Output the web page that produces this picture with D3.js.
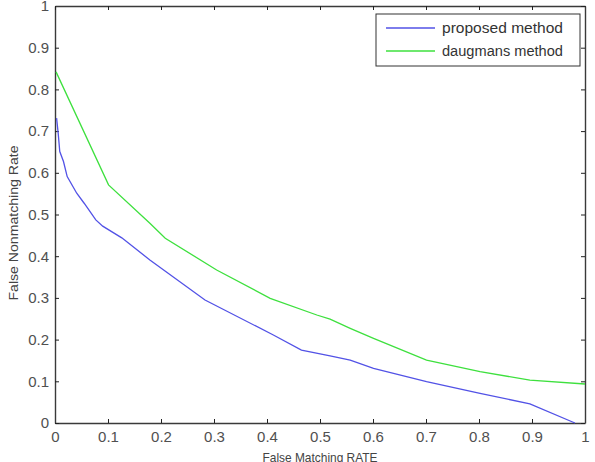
<!DOCTYPE html>
<html>
<head>
<meta charset="utf-8">
<script src="https://cdn.jsdelivr.net/npm/d3@7"></script>
<style>
  body { margin: 0; background: #fff; }
  text { font-family: "Liberation Sans", Arial, sans-serif; }
</style>
</head>
<body>
<div id="chart"></div>
<script>
// false matching rate (x) for each series
var proposedFMR = [0.003, 0.006, 0.009, 0.016, 0.023, 0.041, 0.055, 0.077, 0.09, 0.126, 0.179, 0.283, 0.412, 0.465, 0.519, 0.557, 0.601, 0.701, 0.802, 0.896, 0.981];
var proposedFNMR = [0.731, 0.695, 0.651, 0.627, 0.591, 0.551, 0.527, 0.487, 0.472, 0.444, 0.391, 0.295, 0.211, 0.175, 0.161, 0.151, 0.131, 0.099, 0.071, 0.046, 0.0];

var daugmanFMR = [0.002, 0.101, 0.179, 0.208, 0.305, 0.406, 0.494, 0.519, 0.557, 0.601, 0.701, 0.802, 0.896, 1.0];
var daugmanFNMR = [0.842, 0.571, 0.479, 0.443, 0.367, 0.299, 0.259, 0.249, 0.227, 0.203, 0.151, 0.123, 0.103, 0.0935];

var tickValues = [0, 0.1, 0.2, 0.3, 0.4, 0.5, 0.6, 0.7, 0.8, 0.9, 1];
var seriesNames = ["proposed method", "daugmans method"];
var seriesColors = ["#5252e6", "#3ee03e"];

var margin = {top: 6, right: 10, bottom: 39, left: 55},
    width = 595 - margin.left - margin.right,
    height = 462 - margin.top - margin.bottom;

var x = d3.scaleLinear().domain([0, 1]).range([0, width]);
var y = d3.scaleLinear().domain([0, 1]).range([height, 0]);

var svg = d3.select("#chart").append("svg")
    .attr("width", 595)
    .attr("height", 462)
  .append("g")
    .attr("transform", "translate(" + margin.left + "," + margin.top + ")");

var fmt = function(d) { return d === 0 || d === 1 ? String(d) : d3.format(".1f")(d); };

// axes, ticks pointing inward like matlab
function styleAxis(g) {
  g.select(".domain").attr("stroke", "#3a3a3a").attr("stroke-width", 1.4);
  g.selectAll(".tick line").attr("stroke", "#222");
  g.selectAll(".tick text")
    .attr("fill", "#505050")
    .style("font-size", "15px");
}

svg.append("g")
    .attr("transform", "translate(0," + height + ")")
    .call(d3.axisBottom(x).tickValues(tickValues).tickFormat(fmt).tickSizeInner(-4).tickSizeOuter(0).tickPadding(8))
    .call(styleAxis);

svg.append("g")
    .call(d3.axisLeft(y).tickValues(tickValues).tickFormat(fmt).tickSizeInner(-4).tickSizeOuter(0).tickPadding(6))
    .call(styleAxis);

svg.append("g")
    .call(d3.axisTop(x).tickValues(tickValues).tickFormat("").tickSizeInner(-4).tickSizeOuter(0))
    .call(styleAxis);

svg.append("g")
    .attr("transform", "translate(" + width + ",0)")
    .call(d3.axisRight(y).tickValues(tickValues).tickFormat("").tickSizeInner(-4).tickSizeOuter(0))
    .call(styleAxis);

var line = d3.line()
    .x(function(d) { return x(d[0]); })
    .y(function(d) { return y(d[1]); });

var series = [
  d3.zip(proposedFMR, proposedFNMR),
  d3.zip(daugmanFMR, daugmanFNMR)
];

svg.selectAll(".series")
    .data(series)
  .enter().append("path")
    .attr("class", "series")
    .attr("fill", "none")
    .attr("stroke", function(d, i) { return seriesColors[i]; })
    .attr("stroke-width", 1.3)
    .attr("d", line);

// legend
var legend = svg.append("g")
    .attr("transform", "translate(" + (376 - margin.left) + "," + (14 - margin.top) + ")");

legend.append("rect")
    .attr("width", 204)
    .attr("height", 52)
    .attr("fill", "#fff")
    .attr("stroke", "#333")
    .attr("stroke-width", 1);

var item = legend.selectAll(".item")
    .data(seriesNames)
  .enter().append("g")
    .attr("class", "item")
    .attr("transform", function(d, i) { return "translate(0," + (14 + i * 23) + ")"; });

item.append("line")
    .attr("x1", 10).attr("x2", 59)
    .attr("stroke", function(d, i) { return seriesColors[i]; })
    .attr("stroke-width", 1.6);

item.append("text")
    .attr("x", 66)
    .attr("dy", "0.35em")
    .attr("fill", "#333")
    .style("font-size", "14px")
    .attr("textLength", 121)
    .attr("lengthAdjust", "spacingAndGlyphs")
    .text(function(d) { return d; });

// axis titles
svg.append("text")
    .attr("x", width / 2)
    .attr("y", 462 - margin.top)
    .attr("text-anchor", "middle")
    .attr("fill", "#444")
    .style("font-size", "13px")
    .attr("textLength", 115)
    .attr("lengthAdjust", "spacingAndGlyphs")
    .text("False Matching RATE");

svg.append("text")
    .attr("transform", "translate(" + (18 - margin.left) + "," + (223 - margin.top) + ") rotate(-90)")
    .attr("text-anchor", "middle")
    .attr("fill", "#444")
    .style("font-size", "13px")
    .attr("textLength", 155)
    .attr("lengthAdjust", "spacingAndGlyphs")
    .text("False Nonmatching Rate");
</script>
</body>
</html>
